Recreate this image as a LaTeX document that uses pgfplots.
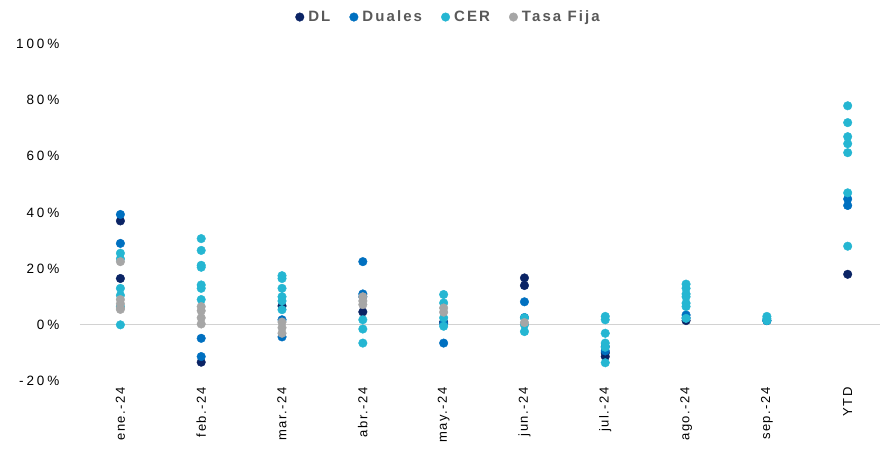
\documentclass[border=0pt]{standalone}
\usepackage{pgfplots}
\pgfplotsset{compat=1.18}
\usepackage{fontspec}
\setmainfont{Liberation Sans}
\newfontfamily\yfont{Liberation Sans}[LetterSpace=22]
\newfontfamily\xfont{Liberation Sans}[LetterSpace=12]
\newfontfamily\lfont{Liberation Sans}[LetterSpace=14]
\definecolor{cDL}{HTML}{0B2465}
\definecolor{cDU}{HTML}{0070C0}
\definecolor{cCER}{HTML}{25B6D2}
\definecolor{cTF}{HTML}{A6A6A6}
\definecolor{txt}{HTML}{595959}
\begin{document}
\begin{tikzpicture}
\begin{axis}[
  name=ax, at={(0pt,0pt)}, anchor=south west,
  scale only axis, width=800pt, height=337pt,
  xmin=-0.5, xmax=9.4, ymin=-20, ymax=100,
  axis line style={draw=none},
  tick style={draw=none},
  xtick={0,...,9},
  xticklabels={ene.-24,feb.-24,mar.-24,abr.-24,may.-24,jun.-24,jul.-24,ago.-24,sep.-24,YTD},
  xticklabel style={rotate=90, anchor=east, font=\xfont\fontsize{13}{14}\selectfont, inner sep=1pt},
  xticklabel shift=5pt,
  ytick={-20,0,...,100},
  yticklabel={\pgfmathprintnumber{\tick}\%},
  yticklabel style={font=\yfont\fontsize{13.5}{14}\selectfont, anchor=east, xshift=-17pt},
  /pgf/number format/assume math mode=true,
  extra y ticks={0}, extra y tick labels={},
  extra y tick style={grid=major, major grid style={draw=gray!35, line width=1pt}},
  legend style={at={(0.46,1.08)}, anchor=center, draw=none, fill=none,
    legend columns=4, font=\lfont\bfseries\fontsize{15}{16}\selectfont\color{txt},
    nodes={inner sep=1pt},
    /tikz/every odd column/.append style={column sep=3pt},
    /tikz/every even column/.append style={column sep=18pt}},
  legend cell align=left,
  legend image code/.code={\fill[#1] (0pt,0pt) circle (4.3pt);},
  clip=false,
  every axis plot/.append style={only marks, mark=*, mark size=4.3pt},
]
\addplot[color=cDL, mark options={draw=cDL, fill=cDL}] coordinates {
(0,37) (0,16.5) (1,-13.3) (2,6.7) (3,4.6) (4,1) (5,16.7) (5,14) (6,-10) (6,-11.3) (7,1.5) (8,1.5) (9,18)};
\addlegendentry{DL}
\addplot[color=cDU, mark options={draw=cDU, fill=cDU}] coordinates {
(0,39.3) (0,29) (1,-4.8) (1,-11.3) (2,1.8) (2,-4.3) (3,22.5) (3,11) (3,10) (4,0.5) (4,-6.5)
(5,8.2) (5,2.6) (6,-7.7) (6,-9.3) (7,3.5) (7,2.5) (8,1.5) (9,44.8) (9,42.5)};
\addlegendentry{Duales}
\addplot[color=cCER, mark options={draw=cCER, fill=cCER}] coordinates {
(0,25.5) (0,23.5) (0,13) (0,10.5) (0,6.5) (0,0)
(1,30.7) (1,26.5) (1,21.2) (1,20.5) (1,14.2) (1,13) (1,9)
(2,17.5) (2,16.5) (2,13) (2,10) (2,8.5) (2,5.4)
(3,1.8) (3,-1.5) (3,-6.5)
(4,10.8) (4,7.8) (4,2.5) (4,-0.5)
(5,2.5) (5,-2.4) (5,0)
(6,3) (6,1.8) (6,-3) (6,-6.5) (6,-8) (6,-13.5)
(7,14.5) (7,13) (7,11) (7,10) (7,7.7) (7,6.5) (7,2.3)
(8,3) (8,2.2) (8,1.5)
(9,78) (9,72) (9,67) (9,64.5) (9,61.3) (9,47) (9,28)};
\addlegendentry{CER}
\addplot[color=cTF, mark options={draw=cTF, fill=cTF}] coordinates {
(0,22.5) (0,9) (0,7.5) (0,6) (0,5.5)
(1,6.5) (1,5) (1,2.5) (1,0.3)
(2,1) (2,-1) (2,-3)
(3,10) (3,8.5) (3,7.2)
(4,6) (4,4.5)
(5,0.8)};
\addlegendentry{Tasa Fija}
\end{axis}
\path ([shift={(-80pt,-73pt)}]ax.south west) rectangle ([shift={(1pt,44pt)}]ax.north east);
\end{tikzpicture}
\end{document}
